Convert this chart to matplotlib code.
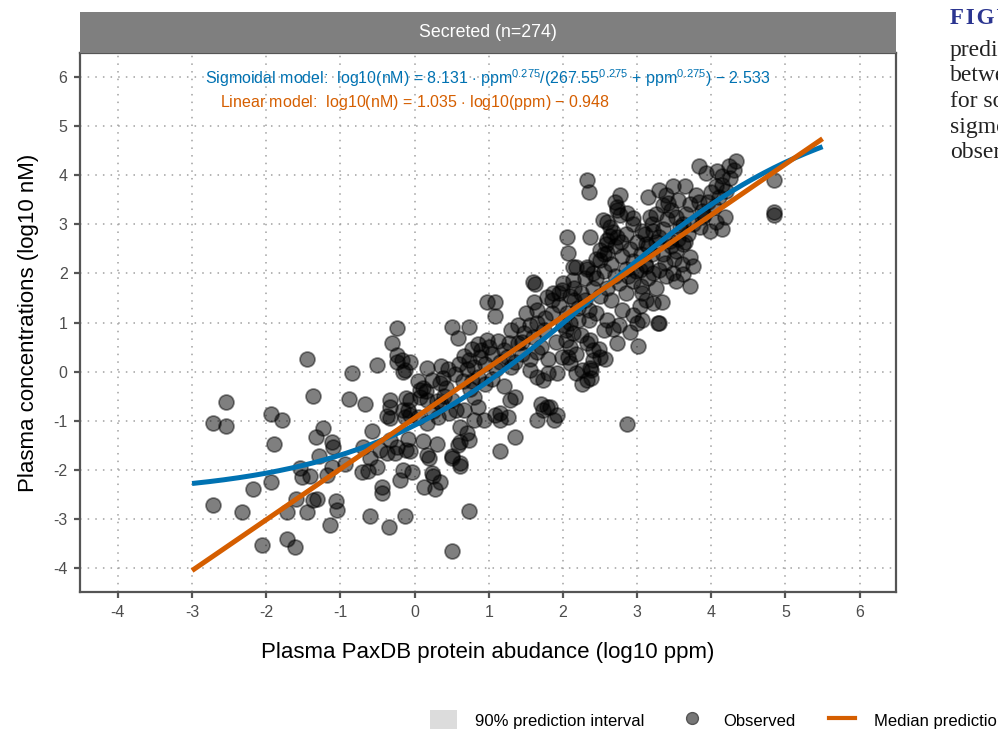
import matplotlib.pyplot as plt
import numpy as np
from matplotlib.patches import Patch
from matplotlib.lines import Line2D

plt.rcParams['font.family'] = ['Liberation Sans', 'DejaVu Sans']
plt.rcParams['mathtext.fontset'] = 'custom'
plt.rcParams['mathtext.rm'] = 'Liberation Sans'
plt.rcParams['mathtext.it'] = 'Liberation Sans:italic'
plt.rcParams['axes.unicode_minus'] = False

# observed proteins: (log10 ppm, log10 nM)
obs_left = [
    (-2.72, -1.05), (-2.54, -0.62), (-2.54, -1.11), (-2.72, -2.72), (-2.33, -2.86),
    (-2.18, -2.39), (-2.06, -3.53), (-1.94, -0.86), (-1.90, -1.47), (-1.79, -0.99),
    (-1.94, -2.25), (-1.72, -3.41), (-1.61, -3.57), (-1.72, -2.86), (-1.60, -2.59),
    (-1.55, -1.96), (-1.52, -2.15), (-1.45, 0.26), (-1.37, -0.50), (-1.45, -2.86),
    (-1.41, -2.13), (-1.37, -2.61), (-1.32, -2.59), (-1.33, -1.33), (-1.24, -1.15),
    (-1.29, -1.72), (-1.12, -1.43), (-1.10, -1.54), (-1.18, -2.11), (-1.12, -1.94),
    (-1.06, -2.64), (-1.04, -2.82), (-1.14, -3.12), (-0.94, -1.88), (-0.89, -0.56),
    (-0.85, -0.03), (-0.67, -0.66), (-0.58, -1.21), (-0.70, -1.54), (-0.47, -1.60),
    (-0.60, -1.76), (-0.50, -1.94), (-0.71, -2.04), (-0.63, -2.02), (-0.44, -2.35),
    (-0.44, -2.47), (-0.60, -2.94), (-0.35, -3.16), (-0.13, -2.94), (-0.51, 0.13),
    (-0.24, 0.89), (-0.31, 0.58), (-0.24, 0.34), (-0.24, 0.20), (-0.06, 0.20),
    (-0.13, 0.03), (-0.33, -0.58), (-0.33, -0.72), (-0.12, -0.54), (-0.37, -0.90),
    (-0.33, -0.94), (-0.16, -0.78), (-0.06, -0.88), (0.07, -0.37), (-0.24, -1.54),
    (-0.11, -1.60), (-0.33, -1.39), (-0.27, -1.66), (-0.37, -1.66), (-0.15, -2.00),
    (-0.04, -2.04), (-0.20, -2.21),
]

obs_mid = [
    (1.59, 1.83), (1.62, 1.79), (0.98, 1.42), (1.08, 1.42), (1.08, 1.13),
    (1.61, 1.42), (0.51, 0.91), (0.74, 0.91), (0.58, 0.68), (0.36, 0.11),
    (0.17, 0.07), (-0.17, 0.24), (-0.16, -0.01), (0.66, 0.32), (0.78, 0.46),
    (0.86, 0.56), (0.98, 0.64), (1.12, 0.62), (1.27, 0.58), (1.39, 0.58),
    (1.47, 0.79), (1.55, 0.95), (1.65, 0.99), (1.76, 1.09), (1.78, 1.52),
    (1.86, 1.60), (1.99, 1.66), (2.13, 1.87), (2.32, 2.13), (2.18, 2.13),
    (2.40, 2.01), (2.04, 0.64), (2.13, 0.79), (2.32, 0.58), (2.40, 0.44),
    (1.99, 0.30), (2.09, 0.17), (2.18, -0.03), (2.32, -0.17), (2.38, 0.03),
    (1.55, 0.03), (1.65, -0.11), (1.73, -0.17), (1.80, -0.03), (1.92, -0.03),
    (1.35, -0.52), (1.28, -0.58), (1.26, -0.93), (1.15, -0.84), (1.71, -0.66),
    (1.78, -0.72), (1.65, -0.99), (1.92, -0.88), (1.08, -0.88), (1.15, -0.99),
    (1.35, -1.33), (1.15, -1.62), (0.80, -0.52), (0.86, -0.72), (0.94, -0.99),
    (0.80, -0.99), (0.51, -0.58), (0.56, -0.78), (0.70, -1.25), (0.58, -1.50),
    (0.34, -0.23), (0.43, -0.33), (0.38, -0.13), (0.24, -0.17), (0.11, -0.33),
    (0.07, -0.52), (0.17, -0.58), (-0.06, -0.58), (-0.09, -0.78), (-0.13, -0.93),
    (0.04, -0.93), (0.17, -1.05), (0.32, -0.93), (0.47, -0.84), (0.11, -1.41),
    (0.30, -1.47), (0.17, -1.70), (0.20, -1.76), (-0.09, -1.37), (-0.06, -1.62),
    (0.51, -1.76), (0.61, -1.86), (0.24, -2.07), (0.61, -1.13), (0.66, -0.78),
    (0.61, -1.43), (0.74, -1.39), (0.50, -1.72), (0.61, -1.92), (0.25, -2.12),
    (0.34, -2.25), (0.13, -2.35), (0.28, -2.39), (0.74, -2.84), (0.51, -3.65),
    (0.74, 0.24), (0.80, 0.10), (0.88, 0.30), (0.70, 0.05), (0.95, 0.15),
    (1.05, 0.35), (1.10, 0.05), (0.85, -0.10), (0.95, -0.25), (1.05, -0.15),
    (0.65, -0.20), (0.75, -0.35), (1.15, 0.20), (1.20, 0.45), (1.00, 0.50),
    (0.60, 0.15), (0.55, -0.05), (0.45, 0.05), (0.90, 0.45), (0.78, -0.20),
    (1.20, -0.30), (1.30, 0.10), (0.40, -0.50), (0.30, -0.60), (0.15, -0.40),
    (0.05, -0.20), (0.25, -0.80), (0.35, -0.65),
    (1.40, 0.95), (1.50, 1.20), (1.60, 0.70), (1.70, 0.50), (1.75, 0.85),
    (1.85, 1.20), (1.90, 0.60), (2.00, 0.95), (2.10, 1.55), (2.20, 1.05),
    (2.25, 0.75), (1.45, 0.35), (1.55, 0.25), (1.65, 0.40), (1.35, 0.20),
    (1.25, 0.30), (1.95, 1.60), (2.00, 1.80), (2.15, 1.70), (2.30, 1.90),
    (1.80, 0.25), (1.85, 1.45), (1.65, 1.25), (1.45, 0.60), (1.30, 0.85),
]

obs_upper = [
    (2.32, 3.90), (2.35, 3.66), (2.77, 3.60), (2.70, 3.45), (2.73, 3.29),
    (2.77, 3.19), (3.14, 3.56), (3.30, 3.70), (2.94, 3.13), (2.60, 3.05),
    (2.63, 2.95), (2.05, 2.74), (2.36, 2.74), (2.07, 2.42), (2.50, 2.48),
    (2.59, 2.68), (2.73, 2.74), (2.13, 2.13), (2.32, 2.09), (2.50, 2.27),
    (2.59, 2.42), (2.54, 3.09), (2.73, 3.35), (2.86, 3.23), (2.63, 2.76),
    (3.30, 1.00), (3.01, 0.53), (2.73, 0.58), (2.67, 0.87), (2.36, 0.64),
    (2.49, 0.46), (2.50, 0.30), (2.57, 0.26), (2.40, 0.24), (2.26, 0.03),
    (2.36, 0.07), (2.26, -0.25), (2.38, -0.13), (1.88, -0.99), (1.73, -0.78),
    (1.83, -0.72), (2.86, -1.07), (2.04, 0.85), (2.09, 0.50), (2.07, 0.30),
    (2.18, 0.36),
]

obs_right = [
    (4.33, 4.29), (4.24, 4.19), (3.84, 4.19), (3.93, 4.05), (4.08, 4.09),
    (4.15, 3.99), (3.48, 3.78), (3.64, 3.78), (3.39, 3.60), (3.41, 3.43),
    (4.85, 3.90), (4.85, 3.25), (4.85, 3.19), (4.06, 3.78), (4.20, 3.68),
    (4.11, 3.56), (4.04, 3.35), (3.84, 3.45), (3.87, 3.27), (3.88, 3.15),
    (3.98, 2.86), (4.15, 2.90), (4.07, 3.05), (4.18, 3.15), (3.71, 3.41),
    (3.66, 3.21), (3.62, 3.00), (3.53, 3.15), (3.58, 2.95), (3.69, 2.80),
    (3.44, 2.66), (3.62, 2.60), (3.53, 2.46), (3.71, 2.33), (3.75, 2.15),
    (3.62, 1.99), (3.53, 1.85), (3.71, 1.75), (3.17, 3.15), (3.26, 3.21),
    (3.21, 2.86), (3.12, 2.60), (3.07, 2.86), (3.30, 2.74), (3.04, 2.07),
    (3.12, 2.15), (3.21, 2.01), (3.30, 2.07), (3.37, 2.21), (3.39, 1.95),
    (3.48, 2.01), (3.07, 1.60), (3.12, 1.46), (3.21, 1.40), (3.33, 1.42),
    (3.04, 1.34), (3.07, 1.05), (3.28, 1.00),
]

obs_core = [
    (2.45, 1.90), (2.55, 2.05), (2.65, 2.20), (2.70, 1.95), (2.80, 2.35),
    (2.85, 2.10), (2.90, 2.50), (2.95, 2.25), (3.00, 2.65), (3.05, 2.40),
    (3.10, 2.80), (3.15, 2.55), (3.20, 3.00), (3.25, 2.65), (3.35, 2.90),
    (3.40, 3.10), (2.60, 1.70), (2.75, 1.80), (2.85, 1.60), (2.95, 1.85),
    (3.05, 1.75), (3.15, 1.90), (3.25, 1.70), (3.35, 2.40), (3.45, 2.55),
    (2.50, 1.55), (2.65, 1.45), (2.80, 1.25), (2.95, 1.15), (3.00, 1.00),
    (2.55, 2.40), (2.70, 2.55), (2.85, 2.80), (2.95, 3.00), (2.45, 2.30),
    (2.40, 1.70), (2.30, 1.45), (2.20, 1.30), (2.45, 1.20), (2.60, 1.05),
    (2.75, 0.95), (2.90, 0.80), (2.55, 0.85), (2.35, 1.05), (2.25, 1.60),
    (2.15, 1.45), (2.05, 1.20), (1.95, 1.35), (2.10, 1.00), (2.35, 1.25),
    (3.55, 2.70), (3.50, 2.30), (3.60, 2.20), (3.85, 2.95), (3.90, 3.20),
    (3.95, 3.45), (4.00, 3.65), (4.15, 3.80), (4.25, 3.95), (4.30, 4.10),
    (3.80, 3.60), (3.75, 3.00), (3.65, 2.65), (3.45, 3.30), (3.55, 3.50),
    (3.35, 3.40), (3.20, 2.40), (3.10, 2.20), (2.98, 2.05), (2.88, 1.95),
    (2.78, 2.65), (2.68, 2.85), (2.58, 2.60),
]

# fitted model parameters (from the annotations)
sig_top, sig_k, sig_h, sig_bottom = 8.131, 267.55, 0.275, 2.533
lin_slope, lin_int = 1.035, 0.948
fit_range = (-3, 5.5)

obs = np.array(obs_left + obs_mid + obs_upper + obs_right + obs_core)

fig = plt.figure(figsize=(9.98, 7.29), dpi=100)
ax = fig.add_axes([0.0802, 0.1879, 0.8176, 0.7394])

ax.scatter(obs[:, 0], obs[:, 1], s=115, facecolor=(0, 0, 0, 0.5),
           edgecolor=(0, 0, 0, 0.45), linewidth=1.3, zorder=2)

xs = np.linspace(fit_range[0], fit_range[1], 300)
ppm = 10 ** xs
sig = sig_top * ppm ** sig_h / (sig_k ** sig_h + ppm ** sig_h) - sig_bottom
lin = lin_slope * xs - lin_int
ax.plot(xs, sig, color='#0072B2', lw=3.6, solid_capstyle='butt', zorder=3)
ax.plot(xs, lin, color='#D55E00', lw=3.6, solid_capstyle='butt', zorder=4)

ax.set_xlim(-4.51, 6.49)
ax.set_ylim(-4.49, 6.49)
ax.set_xticks(range(-4, 7))
ax.set_yticks(range(-4, 7))
ax.grid(True, color='#a0a0a0', linestyle=(0, (1, 4)), linewidth=1.1, zorder=0)
for sp in ax.spines.values():
    sp.set_color('#555555')
    sp.set_linewidth(1.6)
ax.tick_params(length=4, width=1.6, color='#555555', labelcolor='#4d4d4d',
               labelsize=11.5, pad=5)

ax.set_xlabel('Plasma PaxDB protein abudance (log10 ppm)', fontsize=16, color='black', labelpad=16)
ax.set_ylabel('Plasma concentrations (log10 nM)', fontsize=16, color='black', labelpad=10)

ax.text(0.5, 0.9536,
        r'Sigmoidal model:  log10(nM) = 8.131 $\cdot$ ppm$^{0.275}$/(267.55$^{0.275}$ + ppm$^{0.275}$) $-$ 2.533',
        transform=ax.transAxes, ha='center', va='center', color='#0072B2', fontsize=11.5)
ax.text(0.1716, 0.909,
        r'Linear model:  log10(nM) = 1.035 $\cdot$ log10(ppm) $-$ 0.948',
        transform=ax.transAxes, ha='left', va='center', color='#D55E00', fontsize=11.5)

# facet strip
strip = fig.add_axes([0.0802, 0.9273, 0.8176, 0.0562])
strip.set_facecolor('#7f7f7f')
strip.set_xticks([])
strip.set_yticks([])
for sp in strip.spines.values():
    sp.set_visible(False)
strip.text(0.5, 0.5, 'Secreted (n=274)', color='white', fontsize=12.8,
           ha='center', va='center', transform=strip.transAxes)

# legend (cut off by the right edge)
handles = [Patch(facecolor='#dcdcdc', edgecolor='none'),
           Line2D([], [], marker='o', ls='none', markersize=8.5,
                  markerfacecolor='#777777', markeredgecolor='#555555'),
           Line2D([], [], color='#D55E00', lw=3)]
fig.legend(handles, ['90% prediction interval', 'Observed', 'Median prediction'],
           loc='center left', bbox_to_anchor=(0.423, 0.0123), ncol=3, frameon=False,
           fontsize=12, handlelength=1.6, handleheight=1.5, columnspacing=2.0,
           handletextpad=1.1, borderpad=0)

# caption text from the page, cut off at the figure edge
fig.text(0.952, 0.975, '\u200a'.join('FIGURE'), family=['Liberation Serif', 'DejaVu Serif'],
         fontweight='bold', color='#2b3590', fontsize=16.5, va='center')
caption = ['predicted', 'between', 'for some', 'sigmoidal', 'observed']
for i, line in enumerate(caption):
    fig.text(0.952, 0.931 - i * 0.0352, line, family='Liberation Serif',
             color='#222222', fontsize=17, va='center')

fig.savefig('out.png', dpi=100)
